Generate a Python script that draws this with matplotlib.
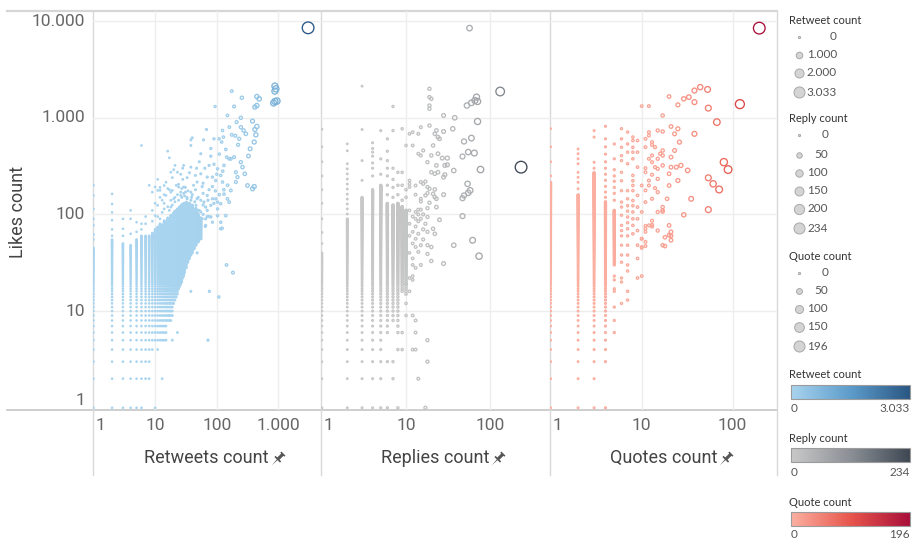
import numpy as np
import matplotlib
matplotlib.use('Agg')
import matplotlib.pyplot as plt
import matplotlib.transforms as mtransforms
from matplotlib.colors import LinearSegmentedColormap
from matplotlib.patches import Rectangle
from matplotlib.path import Path

plt.rcParams['font.family'] = ['Roboto', 'DejaVu Sans']

# ---------------- data ----------------
# Every panel: likes count (y) against one other count (x).
# *_cols   : solid runs of dots -> (x, likes from, likes to), every integer in between
# *_extra  : single dots sitting on the low integer x columns
# *_points : free standing dots and rings

# Retweets count vs likes
rt_cols = [(1, 1, 45), (2, 1, 55), (3, 1, 50), (4, 1, 48), (5, 1, 55), (6, 1, 60),
           (7, 2, 60), (8, 2, 60), (9, 4, 64), (10, 5, 70), (11, 4, 74), (12, 5, 80),
           (13, 5, 78), (14, 5, 86), (15, 5, 84), (16, 8, 92), (17, 8, 90),
           (18, 8, 98), (19, 9, 96), (20, 12, 104), (21, 13, 108), (22, 14, 104),
           (23, 15, 114), (24, 17, 110), (25, 18, 120), (26, 19, 116), (27, 20, 126),
           (28, 22, 120), (29, 23, 130), (30, 25, 124), (32, 28, 134), (34, 32, 126),
           (36, 35, 130), (38, 38, 120), (40, 40, 125), (43, 44, 112), (46, 48, 115),
           (50, 52, 100), (55, 56, 92)]
rt_extra = {1: [55, 62, 77, 90, 114, 157, 200], 2: [60, 70, 87, 105, 128, 163],
            3: [60, 71, 90], 4: [63, 90, 110], 5: [66, 83], 6: [70, 80, 516], 7: [80, 95]}
rt_points = [
    (10, 1), (13, 2), (19, 5), (72, 5), (23, 6), (38, 16), (76, 16), (108, 14), (144, 30),
    (183, 25), (122, 72), (48, 40),
    (175, 1884), (255, 1607), (94, 1306), (191, 1306), (149, 1054), (246, 998), (246, 798),
    (272, 738), (296, 681), (231, 605), (222, 524), (175, 665), (124, 738), (128, 630),
    (109, 605), (90, 605), (68, 755), (40, 620), (38, 590), (61, 590), (16, 451), (17, 385),
    (38, 516), (55, 424), (21, 321), (23, 273), (29, 321), (38, 308), (18, 273), (169, 376),
    (191, 391), (246, 347), (261, 308), (204, 273), (217, 243), (204, 216), (159, 376),
    (145, 391), (131, 321), (103, 296), (85, 243), (116, 253), (96, 224), (75, 321),
    (70, 243), (55, 263), (45, 253), (48, 216), (58, 194), (70, 157), (85, 194), (124, 216),
    (169, 177), (149, 145), (116, 129), (96, 145), (80, 124), (62, 134), (48, 145),
    (38, 170), (29, 192), (24, 192), (19, 177), (14, 199), (11, 177), (55, 106), (66, 90),
    (80, 94), (103, 114), (140, 97), (116, 71), (55, 56), (8, 200), (9, 170), (11, 230),
    (12, 190), (14, 160), (15, 215), (17, 180), (19, 240), (21, 150), (24, 205), (26, 170),
    (28, 230), (31, 190), (33, 150), (12, 150), (18, 140), (23, 160), (30, 155), (10, 130),
    (16, 120), (35, 125), (42, 115), (60, 100), (65, 75), (52, 80), (70, 110), (90, 130),
    (110, 160), (130, 180), (150, 200), (20, 290), (26, 260), (33, 240), (42, 200),
    (60, 210), (64, 300), (90, 330), (110, 420), (80, 480), (140, 470), (120, 560),
    (160, 800), (200, 650), (210, 900),
    (10, 192), (12, 177), (15, 157), (18, 170), (20, 145), (26, 157), (31, 170), (11, 124),
    (14, 114), (18, 119), (22, 110), (31, 124), (36, 110), (46, 124), (55, 140), (66, 119),
    (85, 145), (103, 134), (131, 162), (159, 134), (10, 97), (12, 90), (15, 83), (28, 80),
    (42, 83), (55, 80), (66, 77), (85, 83), (103, 97), (116, 83), (9, 110), (13, 140),
    (16, 185), (22, 200), (27, 185), (34, 175), (40, 160), (45, 180), (50, 150), (60, 165),
    (72, 140), (75, 180), (95, 175), (60, 125), (75, 95), (45, 95), (52, 110), (38, 140),
    (47, 300), (36, 270), (28, 300), (52, 350), (80, 400), (100, 260), (125, 280),
    (9, 85), (11, 95), (13, 105), (14, 130), (17, 110), (19, 125), (21, 135), (24, 140),
    (27, 150), (29, 165), (33, 145), (39, 150), (44, 135), (48, 105), (58, 90), (70, 95),
    (877, 2123), (910, 1990), (877, 1884), (877, 1472), (836, 1416), (946, 1486),
    (447, 1655), (488, 1568), (415, 1288), (447, 1336), (380, 922), (447, 811), (415, 755),
    (431, 665), (405, 560), (348, 477), (327, 401), (315, 199), (380, 184), (405, 194),
    (285, 263), (3033, 8500)]
rt_max = 3033

# Replies count vs likes
rp_cols = [(1, 1, 40), (2, 1, 90), (3, 1, 150), (4, 1, 180), (5, 1, 200), (6, 6, 130),
           (7, 8, 125), (8, 6, 130), (9, 16, 120), (10, 15, 110)]
rp_extra = {1: [50, 65, 90, 130, 180, 250, 350, 500, 760],
            2: [101, 114, 128, 144, 162, 183, 206, 232, 262, 296, 334, 455, 536],
            3: [225, 360, 755, 2120], 4: [250, 300, 340, 400, 440, 480, 550],
            5: [260, 375, 735], 6: [1, 3, 160, 200, 250, 300, 360, 450, 605],
            7: [2, 3, 150, 190, 230, 300, 735, 1306], 8: [1, 4, 160, 200, 272],
            9: [4, 6, 140, 200, 272], 10: [9, 12, 150, 180]}
rp_points = [
    (12, 9), (18, 5), (13, 4), (18, 3), (14, 2), (17, 1), (13, 8), (13, 6), (12, 4), (11, 16),
    (10, 19), (11, 22), (12, 23), (12, 21), (11, 80), (12, 95), (11, 60), (12, 50), (13, 75),
    (14, 85), (11, 40), (12, 30), (13, 28), (16, 70), (16, 55), (17, 80), (14, 100), (16, 100),
    (19, 1990), (19, 1633), (20, 1568), (19, 1336), (19, 1236),
    (11, 681), (12, 709), (14, 681), (15, 798), (19, 830), (22, 681), (23, 738), (24, 630),
    (25, 605), (28, 1054), (28, 720), (36, 768), (9, 768), (10, 516), (12, 516), (14, 424),
    (15, 407), (16, 458), (18, 347), (20, 407), (21, 516), (24, 424), (23, 321), (27, 382),
    (29, 321), (31, 382), (22, 263), (20, 273), (24, 273), (28, 243), (29, 257), (31, 326),
    (37, 284), (11, 224), (11, 207), (11, 192), (13, 199), (15, 216), (16, 207), (17, 219),
    (18, 192), (19, 184), (22, 181), (18, 166), (13, 160), (15, 145), (15, 136), (17, 157),
    (21, 163), (22, 151), (19, 132), (23, 145), (28, 160), (11, 110), (13, 106), (14, 112),
    (15, 112), (13, 90), (15, 90), (18, 94), (18, 116), (23, 119), (25, 88), (12, 66),
    (14, 63), (13, 56), (15, 48), (13, 46), (14, 41), (12, 35), (18, 66), (21, 71), (22, 63),
    (18, 48), (20, 46), (18, 39), (20, 33), (28, 31), (15, 30),
    (57, 8440), (132, 1866), (69, 1633), (66, 1506), (71, 1472), (60, 1426), (53, 1336),
    (71, 914), (38, 998), (60, 615), (49, 568), (55, 441), (65, 431), (47, 397), (77, 291),
    (234, 308), (54, 207), (58, 177), (55, 167), (49, 157), (47, 147), (47, 96), (62, 54),
    (74, 37), (37, 48)]
rp_max = 234

# Quotes count vs likes
qt_cols = [(1, 1, 215), (2, 1, 160), (3, 1, 270), (4, 3, 135), (5, 30, 110)]
qt_extra = {1: [250, 350, 500, 770], 2: [184, 215, 242, 272, 334, 376, 424, 475],
            3: [300, 346, 630, 735],
            4: [1, 150, 170, 195, 225, 260, 300, 350, 420, 500, 605, 815],
            5: [6, 8, 11, 16, 17, 21, 23, 140, 165, 190, 220, 250, 290, 376, 535],
            6: [12, 20, 22, 32, 38, 48, 60, 68, 77, 98, 119, 134, 176, 223, 272, 360, 405,
                494, 605, 770],
            7: [13, 16, 26, 30, 38, 48, 60, 71, 82, 94, 108, 123, 145, 176, 334, 440, 535, 710],
            8: [63, 77, 90, 106, 123, 139, 176, 199, 223, 253, 376, 440, 494, 580, 630],
            9: [22, 35, 48, 68, 90, 119, 157, 308, 440, 580], 10: [23, 45, 56]}
qt_points = [
    (10, 1318), (12, 1318), (20, 1655), (17, 1054), (11, 605), (12, 709), (12, 654),
    (13, 559), (15, 738), (17, 720), (11, 496), (13, 524), (14, 496), (13, 407), (16, 424),
    (17, 458), (15, 376), (17, 407), (12, 376), (11, 301), (13, 347), (14, 308), (15, 296),
    (11, 273), (13, 257), (17, 321), (15, 233), (12, 224), (10, 199), (11, 177), (12, 199),
    (14, 187), (15, 170), (11, 134), (13, 145), (10, 106), (15, 106), (17, 110), (11, 71),
    (12, 77), (13, 75), (15, 68), (11, 52), (10, 46), (17, 119), (20, 199), (19, 145),
    (11, 66), (13, 86), (13, 78), (11, 76), (10, 56), (11, 47), (18, 47), (17, 107),
    (21, 811), (23, 681), (26, 559), (25, 768), (23, 458), (21, 391), (21, 308), (20, 263),
    (24, 308), (27, 321), (25, 224), (32, 285), (35, 145), (29, 99), (21, 66), (20, 61),
    (18, 58), (17, 48), (20, 77), (21, 54), (21, 60),
    (25, 1358), (29, 1568), (33, 1633), (38, 1449), (38, 1910), (44, 2070), (53, 1960),
    (54, 1256), (67, 900), (38, 681), (80, 347), (89, 291), (54, 239), (61, 207), (71, 181),
    (54, 112), (120, 1381), (196, 8440)]
qt_max = 196

like_ticks = [1, 10, 100, 1000, 10000]
like_labels = ['1', '10', '100', '1.000', '10.000']
rt_ticks, rt_tick_labels = [1, 10, 100, 1000], ['1', '10', '100', '1.000']
rp_ticks, rp_tick_labels = [1, 10, 100], ['1', '10', '100']
qt_ticks, qt_tick_labels = [1, 10, 100], ['1', '10', '100']

rt_legend, rt_legend_labels = [0, 1000, 2000, 3033], ['0', '1.000', '2.000', '3.033']
rp_legend, rp_legend_labels = [0, 50, 100, 150, 200, 234], ['0', '50', '100', '150', '200', '234']
qt_legend, qt_legend_labels = [0, 50, 100, 150, 196], ['0', '50', '100', '150', '196']

rt_cmap = LinearSegmentedColormap.from_list('rt', ['#a9d4ef', '#5d9ccb', '#2a5783'])
rp_cmap = LinearSegmentedColormap.from_list('rp', ['#c9c9c9', '#8b9096', '#3e4753'])
qt_cmap = LinearSegmentedColormap.from_list('qt', ['#fbb1a2', '#e8564c', '#a90f3b'])


def expand(cols, extra, points):
    xs, ys = [], []
    for x, lo, hi in cols:
        for y in range(lo, hi + 1):
            xs.append(x)
            ys.append(y)
    for x, vals in extra.items():
        xs += [x] * len(vals)
        ys += vals
    for x, y in points:
        xs.append(x)
        ys.append(y)
    return np.array(xs, float), np.array(ys, float)


LW = 0.95
D_MIN, D_MAX = 2.6, 13.0


def ring_px(v, vmax):
    # outer diameter in pixels, area grows with the value
    return np.sqrt(D_MIN ** 2 + (D_MAX ** 2 - D_MIN ** 2) * np.asarray(v, float) / vmax)


def pin_path():
    def poly(tw):
        return [(t * 0.7071 + w * 0.7071, t * 0.7071 - w * 0.7071) for t, w in tw]
    parts = [[(-1.35, 0), (-0.26, 0.07), (-0.26, -0.07)],
             [(-0.26, 0.55), (-0.02, 0.55), (-0.02, -0.55), (-0.26, -0.55)],
             [(-0.02, 0.22), (0.75, 0.22), (0.75, -0.22), (-0.02, -0.22)],
             [(0.75, 0.4), (0.97, 0.4), (0.97, -0.4), (0.75, -0.4)]]
    verts, codes = [], []
    for p in parts:
        pts = poly(p)
        verts += pts + [pts[0]]
        codes += [Path.MOVETO] + [Path.LINETO] * (len(pts) - 1) + [Path.CLOSEPOLY]
    return Path(verts, codes)


W, H = 916, 539
fig = plt.figure(figsize=(W / 100, H / 100), dpi=100)


def px_rect(l, t, r, b):
    return [l / W, 1 - b / H, (r - l) / W, (b - t) / H]


deco = fig.add_axes([0, 0, 1, 1])
deco.set_xlim(0, W)
deco.set_ylim(H, 0)
deco.axis('off')

# frame lines of the view
deco.plot([7, 777], [11, 11], color='#d6d6d6', lw=1.6)
deco.plot([7, 777], [409.5, 409.5], color='#c6c6c6', lw=1.2)
for xv in [93, 320.5, 549.5, 777]:
    deco.plot([xv, xv], [11, 475], color='#d9d9d9', lw=1)

Y_LIM = (0.96, 12690)
panels = [
    (rt_cols, rt_extra, rt_points, rt_max, (0.981, 4820), rt_ticks, rt_tick_labels,
     'Retweets count', rt_cmap, (93, 320.5)),
    (rp_cols, rp_extra, rp_points, rp_max, (0.96, 510), rp_ticks, rp_tick_labels,
     'Replies count', rp_cmap, (320.5, 549.5)),
    (qt_cols, qt_extra, qt_points, qt_max, (0.97, 307), qt_ticks, qt_tick_labels,
     'Quotes count', qt_cmap, (549.5, 777)),
]

titles = []
axes = []
for cols, extra, points, vmax, xlim, ticks, tlabels, title, cmap, (l, r) in panels:
    ax = fig.add_axes(px_rect(l, 11, r, 409.5))
    ax.set_facecolor('none')
    ax.set_xscale('log')
    ax.set_yscale('log')
    ax.set_xlim(*xlim)
    ax.set_ylim(*Y_LIM)
    for s in ax.spines.values():
        s.set_visible(False)
    ax.tick_params(which='both', length=0, labelbottom=False, labelleft=False)
    for t in like_ticks[1:]:
        ax.axhline(t, color='#eeeeee', lw=1, zorder=0)
    for t in ticks[1:]:
        ax.axvline(t, color='#eeeeee', lw=1, zorder=0)

    xs, ys = expand(cols, extra, points)
    order = np.argsort(xs, kind='stable')
    xs, ys = xs[order], ys[order]
    frac = xs / vmax
    d_pt = ring_px(xs, vmax) * 0.72 - LW
    ax.scatter(xs, ys, s=d_pt ** 2, facecolors='none', edgecolors=cmap(frac),
               linewidths=LW, zorder=3)

    xt = mtransforms.blended_transform_factory(ax.transData, ax.transAxes)
    xt_left = mtransforms.offset_copy(xt, fig=fig, x=2, y=0, units='dots')
    for t, lab in zip(ticks, tlabels):
        if t == 1:
            ax.text(t, -0.041, lab, transform=xt_left, ha='left', va='center',
                    fontsize=12.5, color='#666666')
        else:
            ax.text(t, -0.041, lab, transform=xt, ha='center', va='center',
                    fontsize=12.5, color='#666666')
    titles.append(ax.text(0.5, -0.1217, title, transform=ax.transAxes, ha='center',
                          va='center', fontsize=13, color='#444444'))
    axes.append(ax)

ax1 = axes[0]
yt = mtransforms.blended_transform_factory(ax1.transAxes, ax1.transData)
for t, lab in zip(like_ticks, like_labels):
    ax1.text(-0.035, t, lab, transform=yt, ha='right',
             va='bottom' if t == 1 else 'center', fontsize=12.5, color='#666666')
deco.text(18, 212, 'Likes count', rotation=90, ha='center', va='center', fontsize=13,
          color='#444444')

# pins after the axis titles
renderer = fig.canvas.get_renderer()
pin = pin_path()
for ttl in titles:
    bb = ttl.get_window_extent(renderer)
    deco.plot(bb.x1 + 9, H - (bb.y0 + bb.y1) / 2, marker=pin, ms=10, color='#555555',
              mew=0, ls='none')

# size legends
LEG_FONT = ['Lato', 'DejaVu Sans']


def size_legend(title, ty, vals, labels, ys, vmax, right):
    deco.text(789, ty, title, fontsize=8, color='#333333', va='center', ha='left',
              family=LEG_FONT)
    for v, lab, y in zip(vals, labels, ys):
        d = ring_px(v, vmax) * 0.85 * 0.72
        deco.scatter([799], [y], s=d ** 2, facecolor='#d4d4d4', edgecolor='#a9a9a9',
                     linewidths=0.7, zorder=3)
        deco.text(right, y, lab, ha='right', va='center', fontsize=8.5, color='#555555',
                  family=LEG_FONT)


size_legend('Retweet count', 20, rt_legend, rt_legend_labels, [37, 55, 73, 92], rt_max, 837)
size_legend('Reply count', 119, rp_legend, rp_legend_labels, [135, 155, 173, 191, 209, 228],
            rp_max, 828)
size_legend('Quote count', 256, qt_legend, qt_legend_labels, [273, 291, 309, 327, 346],
            qt_max, 828)

# colour legends
grad = np.linspace(0, 1, 256)[None, :]


def colour_legend(title, ty, top, bottom, lab_y, cmap, hi_label):
    deco.text(789, ty, title, fontsize=8, color='#333333', va='center', ha='left',
              family=LEG_FONT)
    deco.imshow(grad, cmap=cmap, extent=(791, 910, bottom, top), aspect='auto',
                interpolation='bilinear')
    deco.add_patch(Rectangle((791, top), 119, bottom - top, fill=False, ec='#9c9c9c',
                             lw=0.8))
    deco.text(791, lab_y, '0', ha='left', va='center', fontsize=8.5, color='#555555',
              family=LEG_FONT)
    deco.text(910, lab_y, hi_label, ha='right', va='center', fontsize=8.5,
              color='#555555', family=LEG_FONT)


colour_legend('Retweet count', 375, 385, 399, 409, rt_cmap, '3.033')
colour_legend('Reply count', 438, 448, 462, 472, rp_cmap, '234')
colour_legend('Quote count', 502, 512, 526, 534, qt_cmap, '196')
deco.set_xlim(0, W)
deco.set_ylim(H, 0)

fig.savefig('out.png', dpi=100)
